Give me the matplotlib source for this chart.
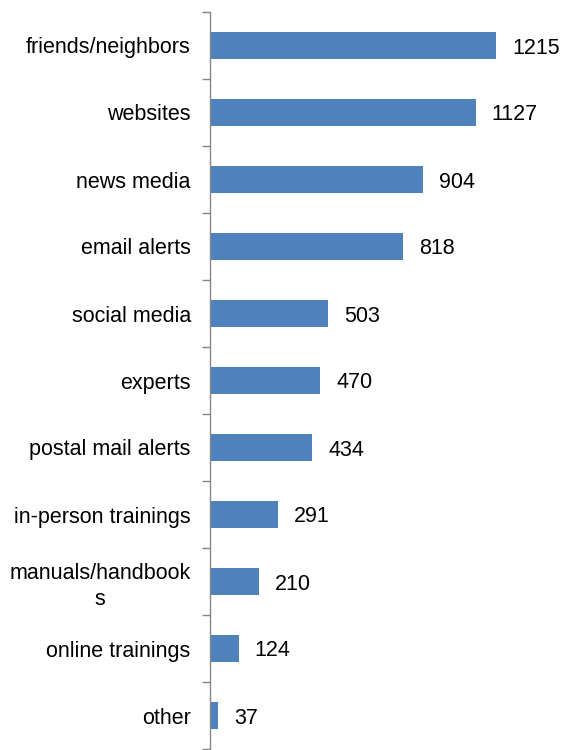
import matplotlib
matplotlib.use("Agg")
import matplotlib.pyplot as plt
import numpy as np

plt.rcParams['font.family'] = ['Liberation Sans', 'DejaVu Sans']

categories = ["friends/neighbors", "websites", "news media", "email alerts",
              "social media", "experts", "postal mail alerts",
              "in-person trainings", "manuals/handbook\ns", "online trainings",
              "other"]
values = [1215, 1127, 904, 818, 503, 470, 434, 291, 210, 124, 37]

fig = plt.figure(figsize=(5.63, 7.5), dpi=100)
ax = fig.add_axes([209.5 / 563, 1 / 750, (540 - 209.5) / 563, 737 / 750])

n = len(categories)
pos = np.arange(n)
ax.barh(pos, values, height=0.4, color="#4F81BD", edgecolor="none")

for p, v in zip(pos, values):
    ax.text(v + 68, p, str(v), va="center_baseline", ha="left", fontsize=15.5,
            color="black")

ax.set_ylim(n - 0.5, -0.5)
ax.set_xlim(0, 1400)

# boundary ticks between categories, labels at the centres
ax.set_yticks(np.arange(-0.5, n, 1.0))
ax.set_yticklabels([])
ax.tick_params(axis="y", which="major", length=6, width=1, color="#868686", direction="out")
ax.set_yticks(pos, minor=True)
ax.set_yticklabels(categories, minor=True, fontsize=15.5, multialignment="center",
                   linespacing=1.3)
ax.tick_params(axis="y", which="minor", length=0, pad=13.5)

ax.set_xticks([])
for s in ["top", "right", "bottom"]:
    ax.spines[s].set_visible(False)
ax.spines["left"].set_color("#868686")
ax.spines["left"].set_linewidth(1)

fig.savefig("out.png", dpi=100)
